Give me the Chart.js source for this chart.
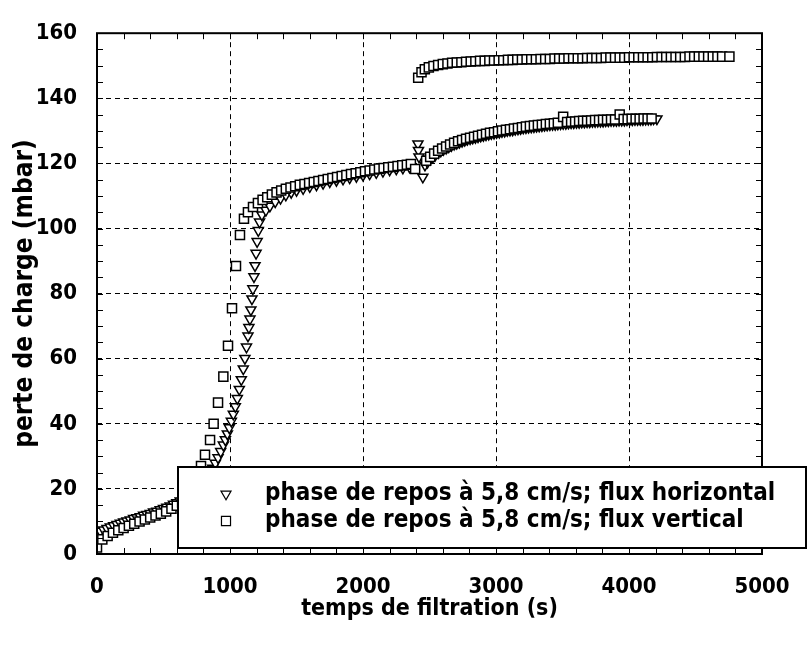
<!DOCTYPE html>
<html>
<head>
<meta charset="utf-8">
<script src="https://cdn.jsdelivr.net/npm/chart.js@4.4.0/dist/chart.umd.min.js"></script>
<style>
  html, body { margin: 0; padding: 0; background: #fff; }
</style>
</head>
<body>
<canvas id="chart" width="807" height="646"></canvas>
<script>
"use strict"

// phase de repos à 5,8 cm/s; flux horizontal (triangles)
const hTime = [0, 25, 50, 75, 100, 125, 150, 175, 200, 225, 250, 275, 300, 325, 350, 375, 400, 425, 450, 475,
  500, 525, 550, 575, 600, 625, 650, 675, 700, 725, 750, 775, 800, 825, 850, 870, 890, 910, 930, 950,
  965, 980, 995, 1010, 1025, 1040, 1055, 1070, 1085, 1100, 1112, 1124, 1135, 1142, 1150, 1157, 1165, 1172, 1180, 1188,
  1196, 1204, 1213, 1222, 1240, 1270, 1300, 1340, 1380, 1420, 1460, 1500, 1550, 1600, 1650, 1700, 1750, 1800, 1850, 1900,
  1950, 2000, 2050, 2100, 2150, 2200, 2250, 2300, 2350, 2413, 2417, 2421, 2450,
  2466, 2485, 2505, 2525, 2545, 2565, 2585, 2605, 2625, 2645, 2665, 2685, 2705, 2725, 2745, 2765, 2785, 2805, 2825, 2845,
  2865, 2885, 2905, 2925, 2945, 2965, 2985, 3005, 3025, 3045, 3065, 3085, 3105, 3125, 3145, 3165, 3185, 3205, 3225, 3245,
  3265, 3285, 3305, 3325, 3345, 3365, 3385, 3405, 3425, 3445, 3465, 3485, 3505, 3525, 3545, 3565, 3585, 3605, 3625, 3645,
  3665, 3685, 3705, 3725, 3745, 3765, 3785, 3805, 3825, 3845, 3865, 3885, 3905, 3925, 3945, 3965, 3985, 4005, 4025, 4045,
  4065, 4085, 4105, 4125, 4145, 4165, 4185, 4210];
const hLoss = [6.5, 7, 7.4, 7.9, 8.3, 8.7, 9.1, 9.5, 9.9, 10.2, 10.5, 10.9, 11.2, 11.5, 11.9, 12.2, 12.5, 12.9, 13.2, 13.6,
  14, 14.4, 14.8, 15.3, 15.8, 16.3, 16.9, 17.5, 18.2, 19, 19.9, 21, 22.2, 23.5, 25, 26.4, 27.9, 29.6, 31.5, 33.5,
  35.1, 36.9, 38.8, 40.8, 43, 45.3, 47.8, 50.6, 53.6, 56.9, 60.1, 63.6, 67, 69.6, 72.2, 75, 78.4, 81.5, 85.2, 88.6,
  92.4, 96, 99.4, 102, 104.2, 105.6, 106.9, 108.2, 109.3, 110.3, 111.1, 111.7, 112.3, 112.9, 113.4, 113.9, 114.4, 114.8, 115.2, 115.6,
  116, 116.4, 116.8, 117.2, 117.6, 118, 118.3, 118.6, 118.9, 126, 124, 122, 115.8,
  119.5, 120.4, 121.3, 122, 122.7, 123.3, 123.8, 124.3, 124.7, 125.1, 125.5, 125.9, 126.2, 126.5, 126.8, 127.1, 127.4, 127.6, 127.8, 128,
  128.2, 128.4, 128.6, 128.8, 129, 129.2, 129.3, 129.5, 129.6, 129.8, 129.9, 130.1, 130.2, 130.3, 130.5, 130.6, 130.7, 130.9, 131, 131.1,
  131.2, 131.3, 131.4, 131.5, 131.6, 131.7, 131.8, 131.9, 132, 132, 132.1, 132.2, 132.3, 132.3, 132.4, 132.5, 132.5, 132.6, 132.6, 132.7,
  132.7, 132.8, 132.8, 132.9, 132.9, 133, 133, 133, 133.1, 133.1, 133.2, 133.2, 133.2, 133.3, 133.3, 133.3, 133.4, 133.4, 133.4, 133.5,
  133.5, 133.5, 133.5, 133.6, 133.6, 133.6, 133.7, 133.7];

// phase de repos à 5,8 cm/s; flux vertical (squares)
const vTime = [0, 40, 80, 120, 160, 200, 240, 280, 320, 360, 400, 440, 480, 520, 560, 600, 640, 680, 720, 755,
  782, 812, 850, 877, 910, 950, 985, 1015, 1045, 1075, 1105, 1135, 1173, 1210, 1245, 1280, 1315, 1350, 1385, 1420,
  1455, 1490, 1525, 1560, 1595, 1630, 1665, 1700, 1735, 1770, 1805, 1840, 1875, 1910, 1945, 1980, 2015, 2050, 2085, 2120,
  2155, 2190, 2225, 2260, 2295, 2330, 2360, 2392,
  2415, 2440, 2465, 2495, 2530, 2565, 2600, 2635, 2670, 2705, 2740, 2775, 2810, 2845, 2880, 2915, 2950, 2985, 3020, 3055,
  3090, 3125, 3160, 3195, 3230, 3265, 3300, 3335, 3370, 3405, 3440, 3475, 3510, 3545, 3580, 3615, 3650, 3685, 3720, 3755,
  3790, 3825, 3860, 3895, 3930, 3965, 4000, 4035, 4070, 4105, 4140, 4175, 4210, 4245, 4280, 4315, 4350, 4385, 4420, 4455,
  4490, 4525, 4560, 4595, 4630, 4665, 4700, 4755,
  2475, 2505, 2535, 2565, 2595, 2625, 2655, 2685, 2715, 2745, 2775, 2805, 2835, 2865, 2895, 2925, 2955, 2985, 3015, 3045,
  3075, 3105, 3135, 3165, 3195, 3225, 3255, 3285, 3315, 3345, 3375, 3405, 3435, 3465, 3505, 3535, 3565, 3595, 3625, 3655,
  3685, 3715, 3745, 3775, 3805, 3835, 3865, 3895, 3930, 3960, 3990, 4020, 4050, 4080, 4110, 4140, 4170];
const vLoss = [2, 4.5, 5.5, 6.5, 7.3, 8, 8.7, 9.3, 10, 10.6, 11.2, 11.8, 12.4, 13.1, 13.9, 14.8, 15.8, 17, 19, 22.5,
  27, 30.5, 35, 40, 46.5, 54.5, 64, 75.5, 88.5, 98, 103, 105, 106.6, 107.8, 108.8, 109.6, 110.4, 111.1, 111.7, 112.2,
  112.6, 113, 113.4, 113.7, 114, 114.3, 114.6, 114.9, 115.2, 115.5, 115.8, 116.1, 116.4, 116.7, 117, 117.3, 117.6, 117.8, 118.1, 118.4,
  118.6, 118.8, 119, 119.2, 119.4, 119.6, 119.8, 118.3,
  146.3, 148, 148.9, 149.5, 149.9, 150.2, 150.5, 150.7, 150.9, 151, 151.1, 151.2, 151.3, 151.4, 151.5, 151.5, 151.6, 151.6, 151.7, 151.7,
  151.8, 151.8, 151.9, 151.9, 152, 152, 152, 152.1, 152.1, 152.1, 152.2, 152.2, 152.2, 152.3, 152.3, 152.3, 152.3, 152.4, 152.4, 152.4,
  152.4, 152.5, 152.5, 152.5, 152.5, 152.5, 152.6, 152.6, 152.6, 152.6, 152.6, 152.6, 152.7, 152.7, 152.7, 152.7, 152.7, 152.7, 152.7, 152.8,
  152.8, 152.8, 152.8, 152.8, 152.8, 152.8, 152.8, 152.8,
  120.8, 122, 123, 123.9, 124.6, 125.2, 125.8, 126.3, 126.8, 127.2, 127.6, 127.9, 128.2, 128.5, 128.8, 129.1, 129.4, 129.6, 129.9, 130.1,
  130.3, 130.5, 130.7, 130.9, 131.1, 131.3, 131.5, 131.6, 131.8, 131.9, 132.1, 132.2, 132.3, 132.5, 134.3, 132.7, 132.8, 132.9, 133, 133.1,
  133.1, 133.2, 133.3, 133.3, 133.4, 133.4, 133.5, 133.5, 135, 133.6, 133.6, 133.7, 133.7, 133.7, 133.8, 133.8, 133.8];

const seriesNames = [
  "phase de repos à 5,8 cm/s; flux horizontal",
  "phase de repos à 5,8 cm/s; flux vertical"
];

const xTitle = "temps de filtration (s)";
const yTitle = "perte de charge (mbar)";
const xTicks = { min: 0, max: 5000, step: 1000, minor: 200 };
const yTicks = { min: 0, max: 160, step: 20, minor: 5 };

const FONT = '"DejaVu Sans Condensed", "DejaVu Sans", sans-serif';

function toPoints(xs, ys) {
  return xs.map((x, i) => ({ x: x, y: ys[i] }));
}

// frame round the plot with small inner ticks on the four sides
const framePlugin = {
  id: "frame",
  afterDatasetsDraw(chart) {
    const ctx = chart.ctx;
    const a = chart.chartArea;
    const xs = chart.scales.x;
    const ys = chart.scales.y;
    ctx.save();
    ctx.strokeStyle = "#000";
    ctx.lineWidth = 1;
    ctx.beginPath();
    for (let v = xTicks.min; v <= xTicks.max; v += xTicks.minor) {
      const px = Math.round(xs.getPixelForValue(v)) + 0.5;
      ctx.moveTo(px, a.bottom); ctx.lineTo(px, a.bottom - 6);
      ctx.moveTo(px, a.top); ctx.lineTo(px, a.top + 6);
    }
    for (let v = yTicks.min; v <= yTicks.max; v += yTicks.minor) {
      const py = Math.round(ys.getPixelForValue(v)) + 0.5;
      ctx.moveTo(a.left, py); ctx.lineTo(a.left + 6, py);
      ctx.moveTo(a.right, py); ctx.lineTo(a.right - 6, py);
    }
    ctx.stroke();
    ctx.lineWidth = 2;
    ctx.strokeRect(a.left, a.top, a.right - a.left, a.bottom - a.top);
    ctx.restore();
  }
};

// boxed legend, white filled, sitting over the lower right of the plot
const legendPlugin = {
  id: "boxLegend",
  afterDraw(chart) {
    const ctx = chart.ctx;
    const box = { left: 178, top: 467, right: 806, bottom: 548 };
    ctx.save();
    ctx.fillStyle = "#fff";
    ctx.fillRect(box.left, box.top, box.right - box.left, box.bottom - box.top);
    ctx.strokeStyle = "#000";
    ctx.lineWidth = 2;
    ctx.strokeRect(box.left, box.top, box.right - box.left, box.bottom - box.top);

    const rows = [494, 521];
    chart.data.datasets.forEach((ds, i) => {
      ctx.lineWidth = 1.2;
      ctx.strokeStyle = "#000";
      ctx.fillStyle = "#fff";
      Chart.helpers.drawPoint(ctx, {
        pointStyle: ds.pointStyle,
        rotation: ds.rotation || 0,
        radius: ds.pointRadius,
        borderWidth: 1.2
      }, 226, rows[i]);
      ctx.fillStyle = "#000";
      ctx.font = "bold 24px " + FONT;
      ctx.textBaseline = "middle";
      ctx.textAlign = "left";
      ctx.fillText(ds.label, 265, rows[i]);
    });
    ctx.restore();
  }
};

const chart = new Chart(document.getElementById("chart"), {
  type: "scatter",
  data: {
    datasets: [
      {
        label: seriesNames[0],
        data: toPoints(hTime, hLoss),
        pointStyle: "triangle",
        rotation: 180,
        pointRadius: 5.8,
        borderColor: "#000",
        backgroundColor: "#fff",
        borderWidth: 1.5,
        order: 1
      },
      {
        label: seriesNames[1],
        data: toPoints(vTime, vLoss),
        pointStyle: "rect",
        pointRadius: 6.4,
        borderColor: "#000",
        backgroundColor: "#fff",
        borderWidth: 1.5,
        order: 0
      }
    ]
  },
  options: {
    responsive: false,
    devicePixelRatio: 1,
    animation: false,
    layout: { padding: { left: 0, right: 45, top: 23, bottom: 0 } },
    plugins: {
      legend: { display: false },
      tooltip: { enabled: false }
    },
    scales: {
      x: {
        type: "linear",
        min: xTicks.min,
        max: xTicks.max,
        afterFit(scale) {
          scale.height = 92;
          scale.paddingLeft = 0;
          scale.paddingRight = 0;
        },
        ticks: {
          stepSize: xTicks.step,
          color: "#000",
          padding: 20,
          callback: (v) => String(v),
          font: { family: FONT, size: 22, weight: "bold" }
        },
        grid: { color: "#000", lineWidth: 1, drawTicks: false },
        border: { display: false, dash: [5, 4] },
        title: {
          display: true,
          text: xTitle,
          color: "#000",
          padding: { top: 0, bottom: 23 },
          font: { family: FONT, size: 23, weight: "bold" }
        }
      },
      y: {
        type: "linear",
        min: yTicks.min,
        max: yTicks.max,
        afterFit(scale) { scale.width = 97; },
        ticks: {
          stepSize: yTicks.step,
          color: "#000",
          padding: 20,
          font: { family: FONT, size: 22, weight: "bold" }
        },
        grid: { color: "#000", lineWidth: 1, drawTicks: false },
        border: { display: false, dash: [5, 4] },
        title: {
          display: true,
          text: yTitle,
          color: "#000",
          padding: { top: 10, bottom: 0 },
          font: { family: FONT, size: 26, weight: "bold" }
        }
      }
    }
  },
  plugins: [framePlugin, legendPlugin]
});
</script>
</body>
</html>
